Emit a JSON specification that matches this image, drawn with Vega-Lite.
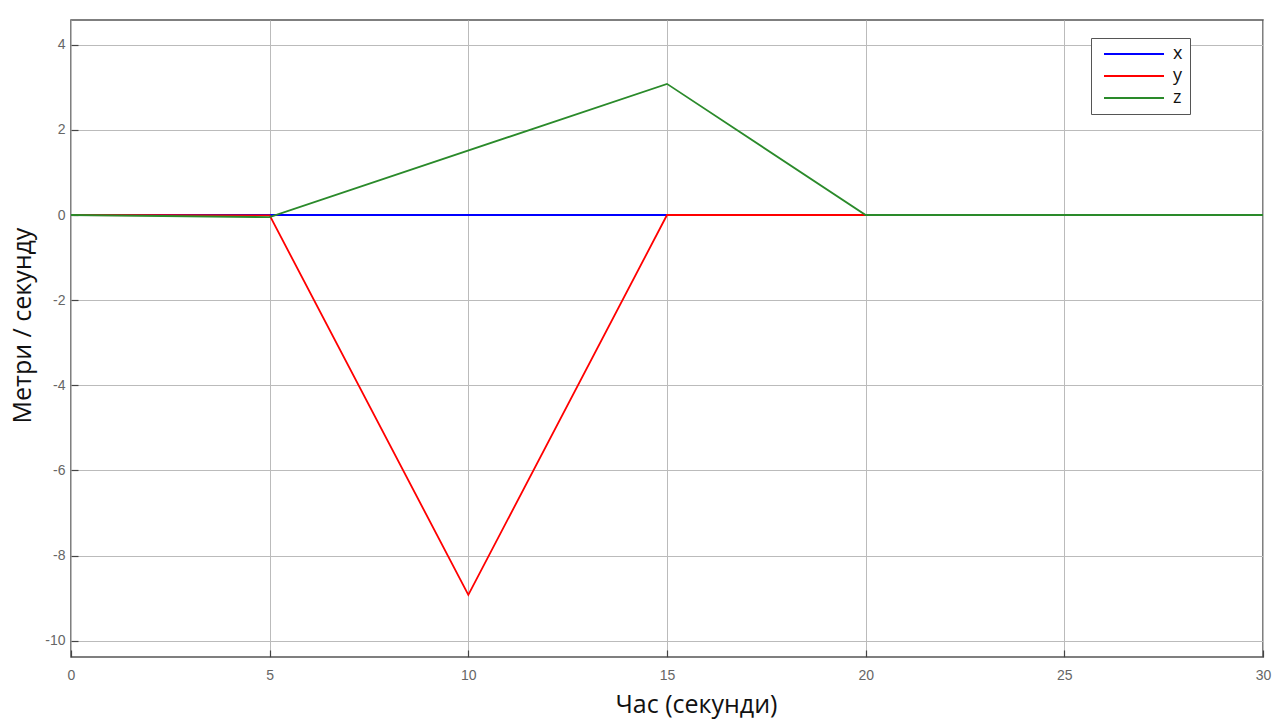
{
  "$schema": "https://vega.github.io/schema/vega-lite/v6.json",
  "width": 1192,
  "height": 637,
  "autosize": {"type": "none"},
  "padding": {"left": 71, "top": 20, "right": 15, "bottom": 63},
  "background": "white",
  "config": {
    "view": {"stroke": "#555555", "strokeWidth": 1.5},
    "font": "Liberation Sans"
  },
  "data": {
    "values": [
      {"series": "x", "t": 0, "v": 0},
      {"series": "x", "t": 5, "v": 0},
      {"series": "x", "t": 10, "v": 0},
      {"series": "x", "t": 15, "v": 0},
      {"series": "x", "t": 20, "v": 0},
      {"series": "x", "t": 30, "v": 0},
      {"series": "y", "t": 0, "v": 0},
      {"series": "y", "t": 5, "v": -0.01},
      {"series": "y", "t": 10, "v": -8.92},
      {"series": "y", "t": 15, "v": 0},
      {"series": "y", "t": 20, "v": 0},
      {"series": "y", "t": 30, "v": 0},
      {"series": "z", "t": 0, "v": 0},
      {"series": "z", "t": 5, "v": -0.05},
      {"series": "z", "t": 15, "v": 3.08},
      {"series": "z", "t": 20, "v": 0},
      {"series": "z", "t": 30, "v": 0}
    ]
  },
  "mark": {"type": "line", "strokeWidth": 1.8, "clip": true},
  "encoding": {
    "x": {
      "field": "t",
      "type": "quantitative",
      "scale": {"domain": [0, 30], "nice": false, "zero": false},
      "axis": {
        "values": [0, 5, 10, 15, 20, 25, 30],
        "title": "Час (секунди)",
        "titleFont": "Open Sans",
        "titleFontSize": 25,
        "titleFontWeight": "normal",
        "titleColor": "#111111",
        "titleX": 625,
        "titleY": 47,
        "titleAlign": "center",
        "titleBaseline": "middle",
        "labelFontSize": 14,
        "labelColor": "#666666",
        "labelFlush": false,
        "labelPadding": 18,
        "ticks": true,
        "tickSize": -7,
        "tickColor": "#444444",
        "tickWidth": 1.2,
        "domain": false,
        "grid": true,
        "gridColor": "#bbbbbb",
        "gridWidth": 1
      }
    },
    "y": {
      "field": "v",
      "type": "quantitative",
      "scale": {"domain": [-10.38, 4.58], "nice": false, "zero": false},
      "axis": {
        "values": [-10, -8, -6, -4, -2, 0, 2, 4],
        "labelExpr": "replace(datum.label, '−', '-')",
        "title": "Метри / секунду",
        "titleFont": "Open Sans",
        "titleFontSize": 25,
        "titleFontWeight": "normal",
        "titleColor": "#111111",
        "titleX": -49,
        "titleY": 305,
        "titleAlign": "center",
        "titleBaseline": "middle",
        "titleAngle": -90,
        "labelFontSize": 14,
        "labelColor": "#666666",
        "labelFlush": false,
        "labelPadding": 13,
        "ticks": true,
        "tickSize": -7,
        "tickColor": "#444444",
        "tickWidth": 1.2,
        "domain": false,
        "grid": true,
        "gridColor": "#bbbbbb",
        "gridWidth": 1
      }
    },
    "color": {
      "field": "series",
      "type": "nominal",
      "scale": {"domain": ["x", "y", "z"], "range": ["#0000ff", "#ff0000", "#2a8a2a"]},
      "legend": {
        "title": null,
        "orient": "none",
        "legendX": 1020,
        "legendY": 18,
        "symbolType": "M-1,0H19",
        "symbolSize": 36,
        "symbolStrokeWidth": 1.8,
        "labelFontSize": 18,
        "labelFont": "Open Sans",
        "labelColor": "#111111",
        "labelOffset": 57,
        "rowPadding": 4,
        "padding": 7,
        "strokeColor": "#555555",
        "fillColor": "white"
      }
    }
  }
}
